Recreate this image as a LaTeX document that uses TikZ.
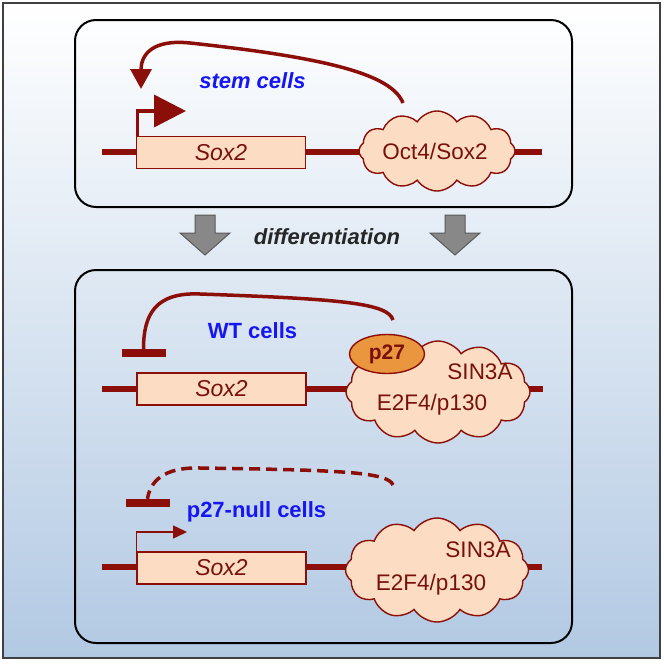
\documentclass[tikz,border=0pt]{standalone}
\usepackage{fontspec}
\setmainfont{Liberation Sans}
\usetikzlibrary{shapes.symbols,shapes.geometric,arrows.meta}
\definecolor{dred}{RGB}{140,14,8}
\definecolor{tred}{RGB}{120,16,12}
\definecolor{peach}{RGB}{252,221,196}
\definecolor{porange}{RGB}{234,150,62}
\definecolor{tblue}{RGB}{22,22,245}
\definecolor{bgblue}{RGB}{178,201,227}
\definecolor{bgmid}{RGB}{222,232,242}
\definecolor{agray}{RGB}{136,136,136}
\begin{document}
\begin{tikzpicture}[x=1pt,y=-1pt,
  panel/.style={draw=black, line width=2pt, rounded corners=21pt},
  dna/.style={draw=dred, line width=6.5pt},
  genebox/.style={draw=dred, line width=1.4pt, fill=peach, minimum width=169pt, minimum height=32pt, inner sep=0pt, text=tred, font=\fontsize{23}{26}\selectfont\itshape},
  tfcloud/.style={cloud, cloud puffs=12, cloud puff arc=115, cloud ignores aspect, draw=dred, line width=1.4pt, fill=peach, inner sep=0pt},
  tflabel/.style={text=tred, font=\fontsize{22.5}{26}\selectfont, inner sep=0pt},
  celllabel/.style={text=tblue, font=\fontsize{22}{26}\selectfont\bfseries, inner sep=0pt, anchor=base},
  fb/.style={draw=dred, line width=3.5pt},
  inhbar/.style={fill=dred, minimum width=44pt, minimum height=8pt, inner sep=0pt},
  garrow/.style={fill=agray, draw=black!65, line width=1pt, line join=miter}
]
\useasboundingbox (0,0) rectangle (664,664);
% background
\shade[top color=white, middle color=bgmid, bottom color=bgblue] (3,3) rectangle (660,658);
\draw[black!75, line width=2pt] (3,3) rectangle (660,658);

% panels
\node[panel, minimum width=497pt, minimum height=187pt] (toppanel) at (323.5,113.5) {};
\node[panel, minimum width=497pt, minimum height=373pt] (botpanel) at (323.5,456.5) {};

% differentiation arrows
\foreach \cx in {205,455}{
  \draw[garrow] (\cx-10,215) -- (\cx+10,215) -- (\cx+10,233) -- (\cx+25,233) -- (\cx,255) -- (\cx-25,233) -- (\cx-10,233) -- cycle;
}
\node[font=\fontsize{22}{26}\selectfont\bfseries\itshape, text=black!85, anchor=base, inner sep=0pt] (diff) at (327,244) {differentiation};

% ---------- stem cells ----------
\coordinate (dl1) at (102,152);
\coordinate (dr1) at (542,152);
\draw[dna] (dl1) -- (dr1);
\node[genebox] (g1) at (221,152.5) {Sox2};
\node[tfcloud, minimum width=156pt, minimum height=80pt] (c1) at (437,151) {};
\node[tflabel] (c1t) at (435,151) {Oct4/Sox2};
\coordinate (tp) at (186,111);
\draw[dred, line width=3.5pt, -{Triangle[length=32pt,width=32pt]}] ([xshift=1.75pt]g1.north west) |- (tp);
\coordinate (fbs) at (403,103);
\coordinate (fbe) at (141,89);
\draw[fb, -{Triangle[length=20pt,width=21pt]}] (fbs) .. controls (392,75) and (330,58) .. (190,43) .. controls (152,39) and (141,55) .. (fbe);
\node[celllabel, font=\fontsize{22}{26}\selectfont\bfseries\itshape] (stem) at (252.5,88) {stem cells};

% ---------- WT cells ----------
\coordinate (dl2) at (102,389);
\coordinate (dr2) at (543,389);
\draw[dna] (dl2) -- (dr2);
\node[genebox] (g2) at (221.5,389) {Sox2};
\node[tfcloud, minimum width=184pt, minimum height=102pt] (c2) at (438,392) {};
\node[ellipse, draw=dred, line width=1.4pt, fill=porange, minimum width=75pt, minimum height=39pt, inner sep=0pt, text=tred, font=\fontsize{21}{24}\selectfont\bfseries] (p27) at (387,354) {p27};
\node[tflabel] (sin2) at (480,372) {SIN3A};
\node[tflabel] (e2f2) at (432,405) {E2F4/p130};
\node[inhbar] (b1) at (143.5,353) {};
\coordinate (wts) at (393,320);
\draw[fb] (wts) .. controls (388,303) and (340,299) .. (200,294) .. controls (155,292) and (143.5,315) .. (b1.north);
\node[celllabel] (wt) at (252.5,338) {WT cells};

% ---------- p27-null cells ----------
\coordinate (dl3) at (102,567);
\coordinate (dr3) at (542,567);
\draw[dna] (dl3) -- (dr3);
\node[genebox] (g3) at (221.5,568) {Sox2};
\node[tfcloud, minimum width=183pt, minimum height=104pt] (c3) at (437,570) {};
\node[tflabel] (sin3) at (478,550) {SIN3A};
\node[tflabel] (e2f3) at (431,585) {E2F4/p130};
\node[inhbar] (b2) at (147.5,503) {};
\coordinate (nus) at (393,485);
\draw[fb, dash pattern=on 11pt off 6pt] (nus) .. controls (388,472) and (340,470) .. (200,468) .. controls (163,467) and (150,482) .. (b2.north);
\coordinate (np) at (187,532);
\draw[dred, line width=1.5pt, -{Triangle[length=14pt,width=13pt]}] (g3.north west) |- (np);
\node[celllabel] (null) at (256.5,517) {p27-null cells};
\end{tikzpicture}
\end{document}
